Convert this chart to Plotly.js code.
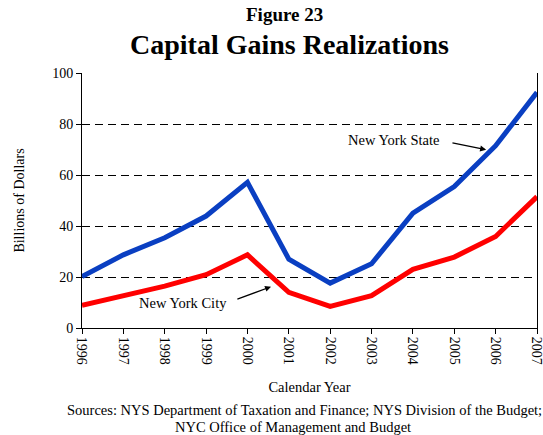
<!DOCTYPE html>
<html>
<head>
<meta charset="utf-8">
<script src="https://cdn.plot.ly/plotly-3.0.1.min.js"></script>
<style>html,body{margin:0;padding:0;background:#fff;}#chart{width:543px;height:435px;}</style>
</head>
<body>
<div id="chart"></div>
<script>
const years = [1996, 1997, 1998, 1999, 2000, 2001, 2002, 2003, 2004, 2005, 2006, 2007];
const nysValues = [20.2, 28.7, 35.4, 43.9, 57.1, 27.0, 17.6, 25.2, 45.0, 55.5, 71.5, 92.4];
const nycValues = [8.9, 12.5, 16.4, 20.9, 28.7, 14.0, 8.5, 12.7, 23.0, 27.8, 35.9, 51.5];
const yTicks = [0, 20, 40, 60, 80, 100];
const xTickLabels = years.map(String);

const serif = "Liberation Serif, Times New Roman, serif";

const traces = [
  {x: years, y: nysValues, type: 'scatter', mode: 'lines', name: 'New York State',
   line: {color: '#0a3fc2', width: 5}},
  {x: years, y: nycValues, type: 'scatter', mode: 'lines', name: 'New York City',
   line: {color: '#ff0000', width: 5}}
];

const layout = {
  width: 543, height: 435,
  margin: {l: 82, r: 6, t: 73, b: 107},
  paper_bgcolor: '#fff', plot_bgcolor: '#fff',
  showlegend: false,
  font: {family: serif, size: 14, color: '#000'},
  xaxis: {
    range: [1996, 2007], tickvals: years, ticktext: xTickLabels, tickangle: 90,
    ticks: 'outside', ticklen: 5, tickcolor: '#000', showgrid: false, zeroline: false,
    showline: true, linecolor: '#000', linewidth: 1, ticklabeloverflow: 'allow',
    tickfont: {family: serif, size: 14},
    title: {text: 'Calendar Year', font: {family: serif, size: 14.5}, standoff: 18}
  },
  yaxis: {
    range: [0, 100], tickvals: yTicks, ticks: 'outside', ticklen: 5, tickcolor: '#000',
    showgrid: true, gridcolor: '#000', gridwidth: 1, griddash: '8px,5px',
    zeroline: false, showline: true, mirror: true, linecolor: '#000', linewidth: 1,
    tickfont: {family: serif, size: 14},
    title: {text: 'Billions of Dollars', font: {family: serif, size: 14}, standoff: 24}
  },
  yaxis2: {
    overlaying: 'y', range: [0, 100], tickvals: yTicks, ticks: 'inside', ticklen: 5,
    tickcolor: '#000', showticklabels: false, showgrid: false, zeroline: false, showline: false
  },
  annotations: [
    {text: '<b>Figure 23</b>', xref: 'paper', yref: 'paper', x: 0.444, y: 1.2286,
     xanchor: 'center', yanchor: 'middle', showarrow: false, font: {family: serif, size: 19}},
    {text: '<b>Capital Gains Realizations</b>', xref: 'paper', yref: 'paper', x: 0.457, y: 1.111,
     xanchor: 'center', yanchor: 'middle', showarrow: false, font: {family: serif, size: 28}},
    {text: 'Sources: NYS Department of Taxation and Finance; NYS Division of the Budget;',
     xref: 'paper', yref: 'paper', x: 0.49, y: -0.3204, xanchor: 'center', yanchor: 'middle',
     showarrow: false, font: {family: serif, size: 14.5}},
    {text: 'NYC Office of Management and Budget',
     xref: 'paper', yref: 'paper', x: 0.464, y: -0.387, xanchor: 'center', yanchor: 'middle',
     showarrow: false, font: {family: serif, size: 14.5}},
    {text: 'New York State', xref: 'x', yref: 'y', x: 2003.52, y: 73.8, showarrow: false,
     xanchor: 'center', yanchor: 'middle', font: {family: serif, size: 14.5}},
    {text: '', xref: 'x', yref: 'y', x: 2005.77, y: 69.9, axref: 'x', ayref: 'y',
     ax: 2004.92, ay: 72.7, showarrow: true, arrowhead: 2, arrowsize: 1, arrowwidth: 1.2, arrowcolor: '#000'},
    {text: 'New York City', xref: 'x', yref: 'y', x: 1998.44, y: 9.9, showarrow: false,
     xanchor: 'center', yanchor: 'middle', font: {family: serif, size: 14.5}},
    {text: '', xref: 'x', yref: 'y', x: 2000.57, y: 16.2, axref: 'x', ayref: 'y',
     ax: 1999.72, ay: 11.1, showarrow: true, arrowhead: 2, arrowsize: 1, arrowwidth: 1.2, arrowcolor: '#000'}
  ]
};

Plotly.newPlot('chart', traces, layout, {displayModeBar: false, staticPlot: true});
</script>
</body>
</html>
